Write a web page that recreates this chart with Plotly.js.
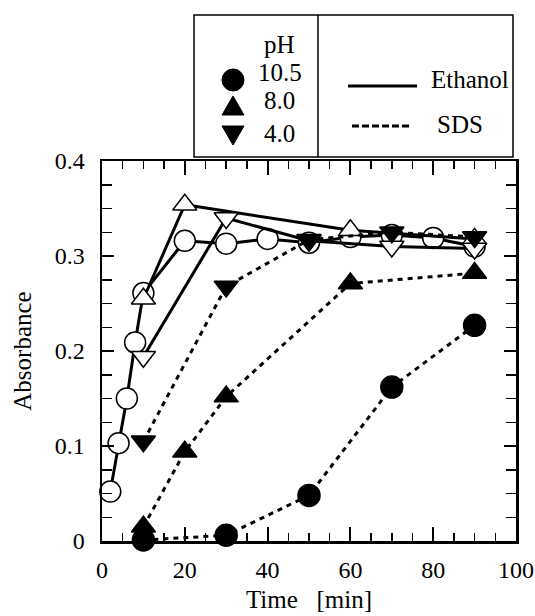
<!DOCTYPE html>
<html>
<head>
<meta charset="utf-8">
<script src="https://cdn.plot.ly/plotly-3.0.1.min.js"></script>
<style>html,body{margin:0;padding:0;background:#fff;}#chart{width:535px;height:616px;}</style>
</head>
<body>
<div id="chart"></div>
<script>
// Ethanol (open markers, solid lines)
const ethTime105 = [2, 4, 6, 8, 10, 20, 30, 40, 50, 60, 70, 80, 90];
const ethAbs105  = [0.052, 0.103, 0.150, 0.209, 0.261, 0.316, 0.313, 0.318, 0.314, 0.320, 0.322, 0.319, 0.310];
const ethTime80  = [10, 20, 60, 90];
const ethAbs80   = [0.255, 0.354, 0.327, 0.318];
const ethTime40  = [10, 30, 50, 70, 90];
const ethAbs40   = [0.194, 0.340, 0.316, 0.310, 0.308];
// SDS (filled markers, dashed lines)
const sdsTime105 = [10, 30, 50, 70, 90];
const sdsAbs105  = [0.001, 0.006, 0.048, 0.162, 0.227];
const sdsTime80  = [10, 20, 30, 60, 90];
const sdsAbs80   = [0.015, 0.094, 0.152, 0.271, 0.282];
const sdsTime40  = [10, 30, 50, 70, 90];
const sdsAbs40   = [0.105, 0.268, 0.317, 0.325, 0.320];

const xTicks = [0, 20, 40, 60, 80, 100];
const yTicks = [0, 0.1, 0.2, 0.3, 0.4];
const yTickText = ['0', '0.1', '0.2', '0.3', '0.4'];
const legendPH = ['pH', '10.5', '8.0', '4.0'];
const legendSolvents = ['Ethanol', 'SDS'];

const FONT = 'Liberation Serif';

function tr(x, y, sym, size, filled, dash) {
  return {
    x: x, y: y, type: 'scatter', mode: 'lines+markers', cliponaxis: false,
    line: {color: '#000', width: 3, dash: dash},
    marker: {symbol: sym, size: size, color: filled ? '#000' : '#fff',
             line: {color: '#000', width: 1.5}},
    showlegend: false, hoverinfo: 'skip'
  };
}

const dashPat = '5px,5px';
const data = [
  tr(ethTime105, ethAbs105, 'circle', 21, false, 'solid'),
  tr(ethTime80, ethAbs80, 'triangle-up', 21, false, 'solid'),
  tr(ethTime40, ethAbs40, 'triangle-down', 21, false, 'solid'),
  tr(sdsTime105, sdsAbs105, 'circle', 22, true, dashPat),
  tr(sdsTime80, sdsAbs80, 'triangle-up', 21, true, dashPat),
  tr(sdsTime40, sdsAbs40, 'triangle-down', 21, true, dashPat)
];

const L = 102, R = 516, T = 161, B = 541;
const px = v => (v - L) / (R - L);
const py = v => (B - v) / (B - T);

const shapes = [
  {type: 'rect', xref: 'paper', yref: 'paper', x0: px(194), x1: px(513), y0: py(157), y1: py(15),
   line: {color: '#000', width: 1.5}, fillcolor: 'rgba(0,0,0,0)'},
  {type: 'line', xref: 'paper', yref: 'paper', x0: px(318), x1: px(318), y0: py(157), y1: py(15),
   line: {color: '#000', width: 1.5}},
  {type: 'line', xref: 'paper', yref: 'paper', x0: px(348), x1: px(417), y0: py(86), y1: py(86),
   line: {color: '#000', width: 3}},
  {type: 'line', xref: 'paper', yref: 'paper', x0: px(352), x1: px(412), y0: py(126), y1: py(126),
   line: {color: '#000', width: 3, dash: '7px,3px'}},
  {type: 'circle', xref: 'paper', yref: 'paper', xsizemode: 'pixel', ysizemode: 'pixel',
   xanchor: px(233), yanchor: py(80), x0: -11, x1: 11, y0: -11, y1: 11,
   fillcolor: '#000', line: {color: '#000', width: 1}},
  {type: 'path', xref: 'paper', yref: 'paper', xsizemode: 'pixel', ysizemode: 'pixel',
   xanchor: px(233), yanchor: py(107), path: 'M -11 -8 L 11 -8 L 0 11 Z',
   fillcolor: '#000', line: {color: '#000', width: 1}},
  {type: 'path', xref: 'paper', yref: 'paper', xsizemode: 'pixel', ysizemode: 'pixel',
   xanchor: px(233), yanchor: py(135), path: 'M -11 9 L 11 9 L 0 -10 Z',
   fillcolor: '#000', line: {color: '#000', width: 1}}
];

const annFont = {family: FONT, size: 25, color: '#000'};
function ann(text, x, y) {
  return {text: text, xref: 'paper', yref: 'paper', x: px(x), y: py(y),
          xanchor: 'center', yanchor: 'middle', showarrow: false, font: annFont};
}
const annotations = [
  ann(legendPH[0], 279, 45),
  ann(legendPH[1], 280, 73),
  ann(legendPH[2], 279, 101),
  ann(legendPH[3], 279, 134),
  ann(legendSolvents[0], 470, 80),
  ann(legendSolvents[1], 460, 124)
];

const axisCommon = {
  showline: true, linecolor: '#000', linewidth: 2.5, mirror: 'ticks',
  ticks: 'inside', tickcolor: '#000', tickwidth: 2,
  showgrid: false, zeroline: false, fixedrange: true,
  tickfont: {family: FONT, size: 24, color: '#000'}
};

const layout = {
  width: 535, height: 616,
  margin: {l: L, r: 535 - R, t: T, b: 616 - B, pad: 0},
  paper_bgcolor: '#fff', plot_bgcolor: '#fff',
  showlegend: false,
  font: {family: FONT, color: '#000'},
  xaxis: Object.assign({}, axisCommon, {
    range: [0, 100], tickmode: 'array', tickvals: xTicks, ticklen: 14,
    ticklabelstandoff: 6,
    minor: {dtick: 5, tick0: 0, ticks: 'inside', ticklen: 8, tickwidth: 1.5, tickcolor: '#000', showgrid: false},
    title: {text: 'Time\u00a0\u00a0\u00a0[min]', font: {family: FONT, size: 25, color: '#000'}, standoff: 8}
  }),
  yaxis: Object.assign({}, axisCommon, {
    range: [0, 0.4], tickmode: 'array', tickvals: yTicks, ticktext: yTickText, ticklen: 12,
    ticklabelstandoff: 10,
    minor: {dtick: 0.025, tick0: 0, ticks: 'inside', ticklen: 10, tickwidth: 1.5, tickcolor: '#000', showgrid: false},
    title: {text: 'Absorbance', font: {family: FONT, size: 25, color: '#000'}, standoff: 16}
  }),
  shapes: shapes,
  annotations: annotations
};

Plotly.newPlot('chart', data, layout, {displayModeBar: false, staticPlot: true});
</script>
</body>
</html>
